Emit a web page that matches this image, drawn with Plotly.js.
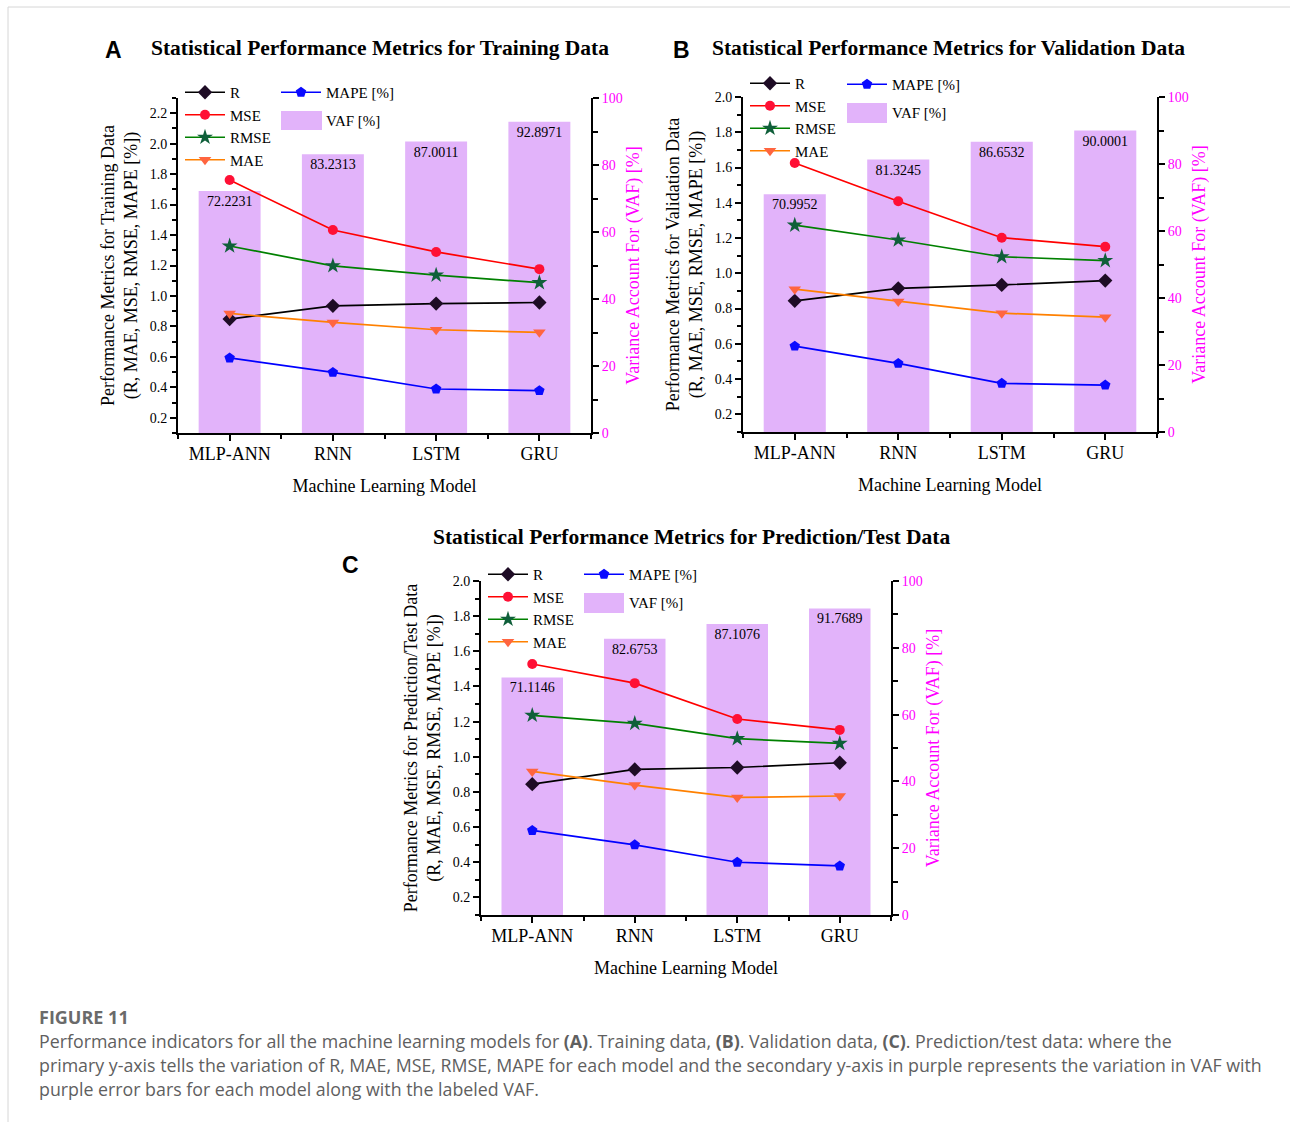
<!DOCTYPE html>
<html><head><meta charset="utf-8">
<script src="https://cdn.plot.ly/plotly-3.0.1.min.js"></script>
<style>html,body{margin:0;padding:0;background:#fff;}#chart{width:1290px;height:1122px;}</style>
</head><body><div id="chart"></div>
<script>
// ---------- data ----------
const models = ['MLP-ANN', 'RNN', 'LSTM', 'GRU'];

// (A) Training data
const trainR    = [0.848, 0.935, 0.950, 0.957];
const trainMSE  = [1.761, 1.433, 1.289, 1.176];
const trainRMSE = [1.328, 1.198, 1.137, 1.087];
const trainMAE  = [0.885, 0.826, 0.778, 0.761];
const trainMAPE = [0.593, 0.498, 0.389, 0.378];
const trainVAF  = [72.2231, 83.2313, 87.0011, 92.8971];

// (B) Validation data
const valR    = [0.844, 0.915, 0.934, 0.959];
const valMSE  = [1.626, 1.409, 1.202, 1.151];
const valRMSE = [1.273, 1.189, 1.094, 1.072];
const valMAE  = [0.910, 0.840, 0.774, 0.751];
const valMAPE = [0.587, 0.489, 0.376, 0.366];
const valVAF  = [70.9952, 81.3245, 86.6532, 90.0001];

// (C) Prediction/Test data
const testR    = [0.844, 0.928, 0.939, 0.966];
const testMSE  = [1.528, 1.419, 1.215, 1.153];
const testRMSE = [1.236, 1.190, 1.103, 1.076];
const testMAE  = [0.917, 0.839, 0.769, 0.777];
const testMAPE = [0.581, 0.499, 0.400, 0.379];
const testVAF  = [71.1146, 82.6753, 87.1076, 91.7689];

const metricNames = ['R', 'MSE', 'RMSE', 'MAE', 'MAPE [%]'];
const barName = 'VAF [%]';

// ---------- styling ----------
const W = 1290, H = 1122;
const px = x => x / W;
const py = y => 1 - y / H;
const SERIF = '"Liberation Serif", "Times New Roman", serif';
const SANS = '"Open Sans", "Liberation Sans", sans-serif';
const MAGENTA = '#ff00ff';
const BAR = '#E2B3FA';

const metricStyles = [
  {line: '#000000', marker: '#1e0c25', symbol: 'diamond', size: 11},
  {line: '#ff0000', marker: '#ff1035', symbol: 'circle', size: 10},
  {line: '#008000', marker: '#0f5f3a', symbol: 'star', size: 12},
  {line: '#ff8000', marker: '#ff6540', symbol: 'triangle-down', size: 11},
  {line: '#0000ff', marker: '#0a0aff', symbol: 'pentagon', size: 11}
];

const panels = [
  {series: [trainR, trainMSE, trainRMSE, trainMAE, trainMAPE], vaf: trainVAF,
   box: [178, 591, 98, 433], yRange: [0.1, 2.3], letter: 'A', letterPos: [113, 50],
   title: 'Statistical Performance Metrics for Training Data', titlePos: [380, 48],
   ytitle: 'Performance Metrics for Training Data<br>(R, MAE, MSE, RMSE, MAPE [%])',
   leg1: [180, 76], leg2: [276, 76], swatch: [281, 322, 111, 130]},
  {series: [valR, valMSE, valRMSE, valMAE, valMAPE], vaf: valVAF,
   box: [743, 1157, 97, 432], yRange: [0.1, 2.0], letter: 'B', letterPos: [681, 50],
   title: 'Statistical Performance Metrics for Validation Data', titlePos: [948, 48],
   ytitle: 'Performance Metrics for Validation Data<br>(R, MAE, MSE, RMSE, MAPE [%])',
   leg1: [745, 67], leg2: [842, 68], swatch: [847, 887, 103, 123]},
  {series: [testR, testMSE, testRMSE, testMAE, testMAPE], vaf: testVAF,
   box: [481, 891, 581, 915], yRange: [0.1, 2.0], letter: 'C', letterPos: [350, 565],
   title: 'Statistical Performance Metrics for Prediction/Test Data', titlePos: [691, 537],
   ytitle: 'Performance Metrics for Prediction/Test Data<br>(R, MAE, MSE, RMSE, MAPE [%])',
   leg1: [483, 558], leg2: [579, 558], swatch: [584, 624, 593, 613]}
];

const idx = models.map((_, i) => i);
const data = [];
const layout = {
  width: W, height: H,
  margin: {l: 0, r: 0, t: 0, b: 0},
  paper_bgcolor: '#ffffff', plot_bgcolor: 'rgba(0,0,0,0)',
  showlegend: true,
  font: {family: SERIF, color: '#000'},
  annotations: [], shapes: []
};

panels.forEach((p, k) => {
  const xName = k === 0 ? 'xaxis' : 'xaxis' + (k + 1);
  const xRef = k === 0 ? 'x' : 'x' + (k + 1);
  const yBarNum = 2 * k + 1, yLineNum = 2 * k + 2;
  const yBarName = yBarNum === 1 ? 'yaxis' : 'yaxis' + yBarNum;
  const yBarRef = yBarNum === 1 ? 'y' : 'y' + yBarNum;
  const yLineName = 'yaxis' + yLineNum;
  const yLineRef = 'y' + yLineNum;
  const legA = k === 0 ? 'legend' : 'legend' + (2 * k + 1);
  const legB = 'legend' + (2 * k + 2);
  const b = p.box;

  const axisCommon = {
    showline: true, linecolor: '#000', linewidth: 2,
    ticks: 'outside', ticklen: 6, tickwidth: 2, tickcolor: '#000',
    showgrid: false, zeroline: false, fixedrange: true
  };

  layout[xName] = Object.assign({}, axisCommon, {
    domain: [px(b[0]), px(b[1])], anchor: yBarRef,
    range: [-0.5, 3.5], tickmode: 'array', tickvals: idx, ticktext: models,
    ticklabelstandoff: -3,
    minor: {tickmode: 'linear', tick0: 0.5, dtick: 1, ticks: 'outside', ticklen: 4, tickwidth: 2, tickcolor: '#000'},
    tickfont: {family: SERIF, size: 18, color: '#000'},
    title: {text: 'Machine Learning Model', font: {family: SERIF, size: 18, color: '#000'}, standoff: 17}
  });
  layout[yBarName] = Object.assign({}, axisCommon, {
    domain: [py(b[3]), py(b[2])], anchor: xRef, side: 'right',
    range: [0, 100], tickmode: 'linear', tick0: 0, dtick: 20,
    minor: {tickmode: 'linear', tick0: 0, dtick: 10, ticks: 'outside', ticklen: 5, tickwidth: 2, tickcolor: '#000'},
    tickfont: {family: SERIF, size: 14, color: MAGENTA},
    title: {text: 'Variance Account For (VAF) [%]', font: {family: SERIF, size: 18, color: MAGENTA}, standoff: 5}
  });
  layout[yLineName] = Object.assign({}, axisCommon, {
    overlaying: yBarRef, anchor: xRef, side: 'left',
    range: p.yRange, tickmode: 'linear', tick0: 0, dtick: 0.2, tickformat: '.1f',
    minor: {tickmode: 'linear', tick0: 0, dtick: 0.1, ticks: 'outside', ticklen: 4, tickwidth: 2, tickcolor: '#000'},
    tickfont: {family: SERIF, size: 14, color: '#000'},
    title: {text: p.ytitle, font: {family: SERIF, size: 18, color: '#000'}, standoff: 7}
  });

  // lines (overlay axis, drawn above bars)
  p.series.forEach((vals, m) => {
    const st = metricStyles[m];
    data.push({
      type: 'scatter', mode: 'lines+markers', name: metricNames[m],
      x: idx, y: vals, xaxis: xRef, yaxis: yLineRef,
      legend: m < 4 ? legA : legB,
      legendgroup: m < 4 ? undefined : 'mape' + k,
      line: {color: st.line, width: 1.7},
      marker: {color: st.marker, symbol: st.symbol, size: st.size, line: {width: 0}},
      cliponaxis: false, hoverinfo: 'x+y'
    });
  });
  // VAF bars
  data.push({
    type: 'bar', name: barName, x: idx, y: p.vaf, xaxis: xRef, yaxis: yBarRef,
    legend: legB, legendgroup: 'vaf' + k, width: 0.6,
    marker: {color: BAR, line: {color: BAR, width: 0}},
    texttemplate: '%{y:.4f}', textposition: 'inside', insidetextanchor: 'end',
    textangle: 0, constraintext: 'none',
    insidetextfont: {family: SERIF, size: 14, color: '#000'}
  });

  const legCommon = {
    xanchor: 'left', yanchor: 'top', bgcolor: 'rgba(0,0,0,0)', borderwidth: 0,
    orientation: 'v', itemwidth: 40,
    font: {family: SERIF, size: 15, color: '#000'}, itemclick: false, itemdoubleclick: false
  };
  layout[legA] = Object.assign({}, legCommon, {x: px(p.leg1[0]), y: py(p.leg1[1]), tracegroupgap: 0});
  layout[legB] = Object.assign({}, legCommon, {x: px(p.leg2[0]), y: py(p.leg2[1]), tracegroupgap: 5});

  // larger legend swatch for the VAF bar entry (sits under the legend symbol)
  layout.shapes.push({
    type: 'rect', xref: 'paper', yref: 'paper', layer: 'above',
    x0: px(p.swatch[0]), x1: px(p.swatch[1]), y0: py(p.swatch[3]), y1: py(p.swatch[2]),
    fillcolor: BAR, line: {width: 0}
  });

  // panel letter + title
  layout.annotations.push({
    text: '<b>' + p.letter + '</b>', xref: 'paper', yref: 'paper',
    x: px(p.letterPos[0]), y: py(p.letterPos[1]), xanchor: 'center', yanchor: 'middle',
    showarrow: false, font: {family: '"Liberation Sans", Arial, sans-serif', size: 23, color: '#000'}
  });
  layout.annotations.push({
    text: '<b>' + p.title + '</b>', xref: 'paper', yref: 'paper',
    x: px(p.titlePos[0]), y: py(p.titlePos[1]), xanchor: 'center', yanchor: 'middle',
    showarrow: false, font: {family: SERIF, size: 21.5, color: '#000'}
  });
});

// caption
const captionLines = [
  'Performance indicators for all the machine learning models for <b>(A)</b>. Training data, <b>(B)</b>. Validation data, <b>(C)</b>. Prediction/test data: where the',
  'primary y-axis tells the variation of R, MAE, MSE, RMSE, MAPE for each model and the secondary y-axis in purple represents the variation in VAF with',
  'purple error bars for each model along with the labeled VAF.'
];
layout.annotations.push({
  text: '<b>FIGURE 11</b>', xref: 'paper', yref: 'paper', x: px(37), y: py(1017),
  xanchor: 'left', yanchor: 'middle', showarrow: false,
  font: {family: SANS, size: 18, color: '#6a6a6a'}
});
captionLines.forEach((t, i) => {
  layout.annotations.push({
    text: t, xref: 'paper', yref: 'paper', x: px(37), y: py(1041 + 24 * i),
    xanchor: 'left', yanchor: 'middle', showarrow: false,
    font: {family: SANS, size: 17.8, color: '#5f5f5f'}
  });
});

// card frame
layout.shapes.push({type: 'line', xref: 'paper', yref: 'paper', x0: px(8), x1: 1, y0: py(7), y1: py(7), line: {color: '#d6d6d6', width: 1}});
layout.shapes.push({type: 'line', xref: 'paper', yref: 'paper', x0: px(8), x1: px(8), y0: py(7), y1: 0, line: {color: '#d6d6d6', width: 1}});

Plotly.newPlot('chart', data, layout, {displayModeBar: false, staticPlot: true});
</script>
</body></html>
